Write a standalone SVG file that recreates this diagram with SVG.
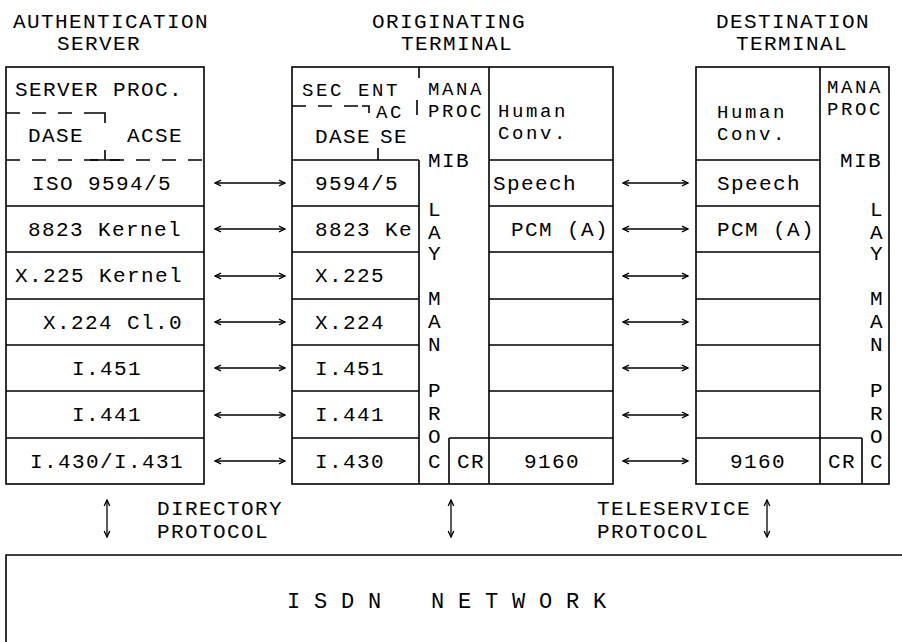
<svg xmlns="http://www.w3.org/2000/svg" width="902" height="642" viewBox="0 0 902 642">
<style>
.t{font-family:"Liberation Mono","DejaVu Sans Mono",monospace;font-size:21px;letter-spacing:1.4px;fill:#000}
.s{font-size:19px;letter-spacing:2.6px}
.m{text-anchor:middle}
.ln{stroke:#000;stroke-width:1.6;fill:none}
.ds{stroke:#000;stroke-width:1.6;fill:none;stroke-dasharray:14 12}
.ar{stroke:#000;stroke-width:1.3;fill:none;marker-start:url(#ah);marker-end:url(#ah)}
</style>
<defs>
<marker id="ah" viewBox="0 0 8 8" refX="7" refY="4" markerWidth="8" markerHeight="8" markerUnits="userSpaceOnUse" orient="auto-start-reverse">
<path d="M1,1.2 L7,4 L1,6.8" fill="none" stroke="#000" stroke-width="1.3"/>
</marker>
</defs>
<rect width="902" height="642" fill="#fff"/>

<g id="titles">
<text class="t m"><tspan x="111" y="28">AUTHENTICATION</tspan><tspan x="99" y="50">SERVER</tspan></text>
<text class="t m"><tspan x="449" y="28">ORIGINATING</tspan><tspan x="457" y="50">TERMINAL</tspan></text>
<text class="t m"><tspan x="793" y="28">DESTINATION</tspan><tspan x="792" y="50">TERMINAL</tspan></text>
</g>

<g id="server">
<rect class="ln" x="6" y="67" width="198" height="417"/>
<path class="ds" d="M6,113 H92"/>
<path class="ln" d="M92,113 H105 V123"/>
<path class="ds" d="M6,160 H204"/>
<path class="ln" d="M90,160 H120 M105,150 V160"/>
<path class="ln" d="M6,206 H204 M6,252 H204 M6,299 H204 M6,345 H204 M6,391 H204 M6,438 H204"/>
<text class="t" x="15" y="96">SERVER PROC.</text>
<text class="t"><tspan x="28" y="142">DASE</tspan><tspan x="127" y="142">ACSE</tspan></text>
<text class="t" x="32" y="190">ISO 9594/5</text>
<text class="t" x="28" y="236">8823 Kernel</text>
<text class="t" x="15" y="282">X.225 Kernel</text>
<text class="t" x="43" y="329">X.224 Cl.0</text>
<text class="t" x="72" y="375">I.451</text>
<text class="t" x="72" y="421">I.441</text>
<text class="t" x="30" y="468">I.430/I.431</text>
</g>

<g id="originating">
<rect class="ln" x="292" y="67" width="321" height="417"/>
<path class="ln" d="M489,67 V484 M419,67 V78 M417,100 V115 M419,160 V484"/>
<path class="ds" d="M292,106 H360"/>
<path class="ln" d="M362,106 H369 V113 M378,148 V160"/>
<path class="ln" d="M292,160 H419 M292,206 H419 M292,252 H419 M292,299 H419 M292,345 H419 M292,391 H419 M292,438 H419"/>
<path class="ln" d="M489,160 H613 M489,206 H613 M489,252 H613 M489,299 H613 M489,345 H613 M489,391 H613 M449,438 H613 M449,438 V484"/>
<text class="t s"><tspan x="302" y="96">SEC ENT</tspan><tspan x="376" y="118">AC</tspan></text>
<text class="t"><tspan x="315" y="143">DASE</tspan><tspan x="380" y="143">SE</tspan></text>
<text class="t s"><tspan x="428" y="95">MANA</tspan><tspan x="428" y="117">PROC</tspan></text>
<text class="t" x="428" y="167">MIB</text>
<text class="t m"><tspan x="435" y="216">L</tspan><tspan x="435" y="239">A</tspan><tspan x="435" y="260">Y</tspan><tspan x="435" y="305">M</tspan><tspan x="435" y="328">A</tspan><tspan x="435" y="351">N</tspan><tspan x="435" y="397">P</tspan><tspan x="435" y="420">R</tspan><tspan x="435" y="443">O</tspan><tspan x="435" y="468">C</tspan></text>
<text class="t" x="315" y="190">9594/5</text>
<text class="t" x="315" y="236">8823 Ke</text>
<text class="t" x="315" y="282">X.225</text>
<text class="t" x="315" y="329">X.224</text>
<text class="t" x="315" y="375">I.451</text>
<text class="t" x="315" y="421">I.441</text>
<text class="t" x="315" y="468">I.430</text>
<text class="t m" x="471" y="468">CR</text>
<text class="t s"><tspan x="498" y="117">Human</tspan><tspan x="498" y="139">Conv.</tspan></text>
<text class="t" x="493" y="190">Speech</text>
<text class="t" x="511" y="236">PCM (A)</text>
<text class="t m" x="552" y="468">9160</text>
</g>

<g id="destination">
<rect class="ln" x="696" y="67" width="193" height="417"/>
<path class="ln" d="M820,67 V484"/>
<path class="ln" d="M696,160 H820 M696,206 H820 M696,252 H820 M696,299 H820 M696,345 H820 M696,391 H820 M696,438 H862 M862,438 V484"/>
<text class="t s"><tspan x="717" y="118">Human</tspan><tspan x="717" y="140">Conv.</tspan></text>
<text class="t s"><tspan x="827" y="93">MANA</tspan><tspan x="827" y="115">PROC</tspan></text>
<text class="t" x="840" y="167">MIB</text>
<text class="t m"><tspan x="877" y="216">L</tspan><tspan x="877" y="239">A</tspan><tspan x="877" y="260">Y</tspan><tspan x="877" y="305">M</tspan><tspan x="877" y="328">A</tspan><tspan x="877" y="351">N</tspan><tspan x="877" y="397">P</tspan><tspan x="877" y="420">R</tspan><tspan x="877" y="443">O</tspan><tspan x="877" y="468">C</tspan></text>
<text class="t" x="717" y="190">Speech</text>
<text class="t" x="717" y="236">PCM (A)</text>
<text class="t m" x="758" y="468">9160</text>
<text class="t m" x="842" y="468">CR</text>
</g>

<g id="network">
<path class="ln" d="M6,642 V555 H902"/>
<text class="t" style="font-size:22px;letter-spacing:0.3px"><tspan x="287" y="608">I S D N</tspan><tspan x="431" y="608">N E T W O R K</tspan></text>
</g>

<g id="labels">
<text class="t"><tspan x="157" y="515">DIRECTORY</tspan><tspan x="157" y="538">PROTOCOL</tspan></text>
<text class="t"><tspan x="597" y="515">TELESERVICE</tspan><tspan x="597" y="538">PROTOCOL</tspan></text>
</g>

<g id="connectors">
<path class="ar" d="M215,183 H285"/>
<path class="ar" d="M215,229 H285"/>
<path class="ar" d="M215,276 H285"/>
<path class="ar" d="M215,322 H285"/>
<path class="ar" d="M215,368 H285"/>
<path class="ar" d="M215,415 H285"/>
<path class="ar" d="M215,461 H285"/>
<path class="ar" d="M623,183 H688"/>
<path class="ar" d="M623,229 H688"/>
<path class="ar" d="M623,276 H688"/>
<path class="ar" d="M623,322 H688"/>
<path class="ar" d="M623,368 H688"/>
<path class="ar" d="M623,415 H688"/>
<path class="ar" d="M623,461 H688"/>
<path class="ar" d="M107,500 V537"/>
<path class="ar" d="M451,500 V537"/>
<path class="ar" d="M767,500 V537"/>
</g>
</svg>
